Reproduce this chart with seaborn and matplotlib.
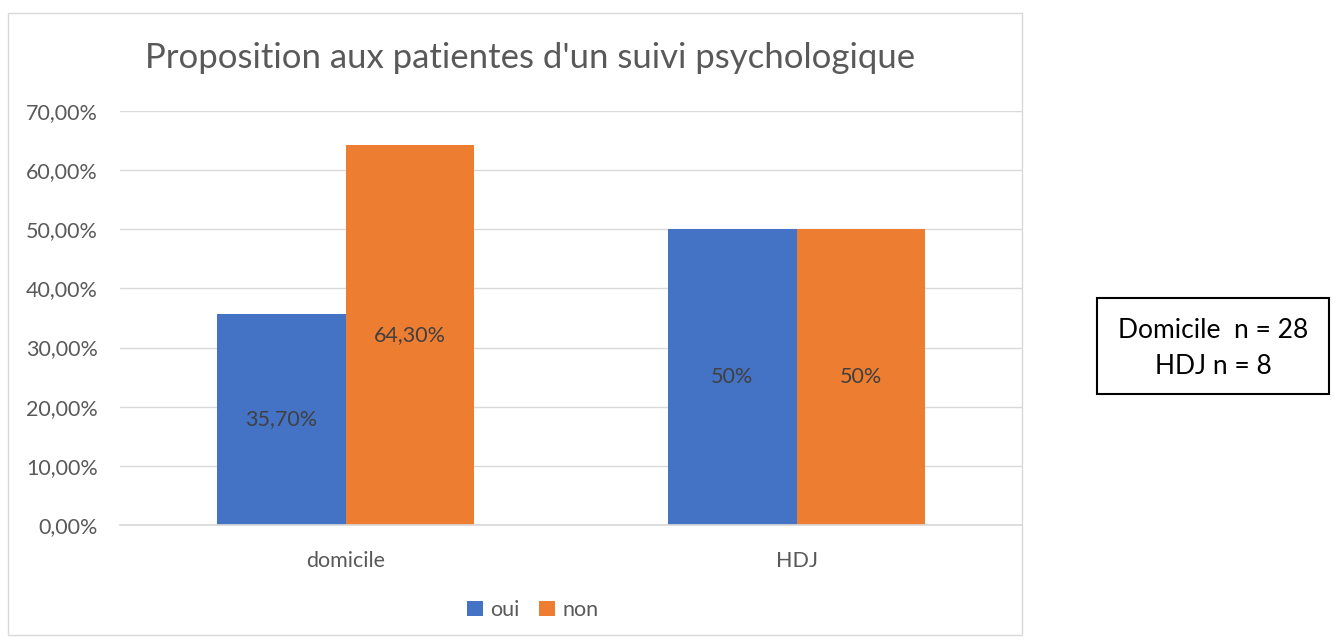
import pandas as pd
import matplotlib
matplotlib.use("Agg")
import matplotlib.pyplot as plt
import seaborn as sns
from matplotlib.patches import Rectangle
from matplotlib.ticker import FuncFormatter

categories = ["domicile", "HDJ"]
oui = [35.7, 50.0]
non = [64.3, 50.0]
oui_labels = ["35,70%", "50%"]
non_labels = ["64,30%", "50%"]
series = ["oui", "non"]

df = pd.DataFrame({
    "lieu": categories * 2,
    "reponse": ["oui"] * len(categories) + ["non"] * len(categories),
    "valeur": oui + non,
})

sns.set_theme(style="white")
plt.rcParams["font.family"] = ["Lato", "DejaVu Sans"]

W, H = 1339, 640
fig = plt.figure(figsize=(W / 100, H / 100), dpi=100)
ax = fig.add_axes([120 / W, 1 - 525 / H, (1022 - 120) / W, (525 - 111) / H])

# chart area border
fig.patches.append(Rectangle((8 / W, 1 - 635 / H), (1022 - 8) / W, (635 - 13) / H,
                             transform=fig.transFigure, fill=False, edgecolor="#d9d9d9", lw=1))

sns.barplot(data=df, x="lieu", y="valeur", hue="reponse", hue_order=series,
            palette=["#4472C4", "#ED7D31"], width=0.57, gap=0, saturation=1,
            edgecolor="none", ax=ax, legend=True)

ax.set_xlim(-0.5, 1.5)
ax.set_ylim(0, 70)
ax.set_yticks(range(0, 71, 10))
ax.yaxis.set_major_formatter(FuncFormatter(lambda v, p: f"{v:.2f}%".replace(".", ",")))
ax.grid(axis="y", color="#d9d9d9", lw=1)
ax.set_axisbelow(True)
for s in ["top", "right", "left"]:
    ax.spines[s].set_visible(False)
ax.spines["bottom"].set_color("#d9d9d9")
ax.set_xlabel("")
ax.set_ylabel("")
ax.tick_params(axis="both", length=0, labelsize=15.5, labelcolor="#595959")
ax.tick_params(axis="x", pad=19)
ax.tick_params(axis="y", pad=16)

for cont, labs in zip(ax.containers, [oui_labels, non_labels]):
    ax.bar_label(cont, labels=labs, label_type="center", fontsize=15.5, color="#404040")

handles, labels = ax.get_legend_handles_labels()
ax.get_legend().remove()
fig.legend(handles, labels, loc="center", bbox_to_anchor=(533 / W, 1 - 610 / H), ncol=2,
           frameon=False, fontsize=15.5, handlelength=0.75, handleheight=0.75, handletextpad=0.35,
           columnspacing=0.9, labelcolor="#595959")

fig.text(530 / W, 1 - 58 / H, "Proposition aux patientes d'un suivi psychologique",
         ha="center", va="center", fontsize=25, color="#595959")

# n box
fig.patches.append(Rectangle((1097 / W, 1 - 394 / H), (1329 - 1097) / W, (394 - 298) / H,
                             transform=fig.transFigure, fill=False, edgecolor="black", lw=1.5))
fig.text(1213 / W, 1 - 331 / H, "Domicile  n = 28", ha="center", va="center",
         fontsize=19, color="black")
fig.text(1213 / W, 1 - 367 / H, "HDJ n = 8", ha="center", va="center",
         fontsize=19, color="black")

fig.savefig("out.png", dpi=100)
